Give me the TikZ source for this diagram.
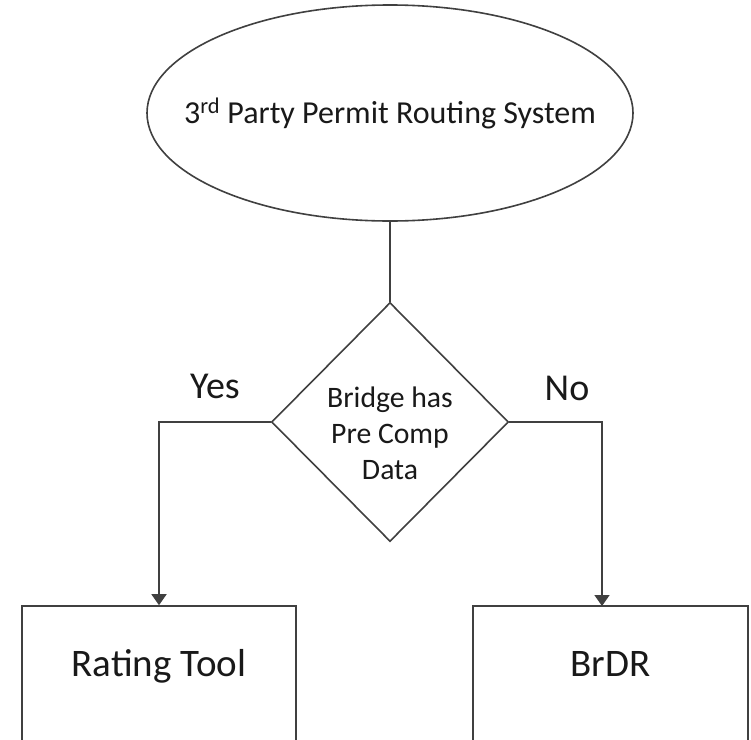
\documentclass[tikz,border=0pt]{standalone}
\usepackage{fontspec}
\setmainfont{Carlito}
\usetikzlibrary{shapes.geometric,arrows.meta}
\begin{document}
\begin{tikzpicture}[x=1pt,y=-1pt,
  conn/.style={draw=black!75, line width=1.6pt},
  arrowconn/.style={conn, -{Triangle[width=15pt,length=11pt]}},
  outline/.style={draw=black!75, line width=1.6pt},
  boxnode/.style={outline, rectangle, minimum width=274pt, minimum height=136pt, inner sep=0pt,
     font=\fontsize{39}{47}\selectfont, text height=0.7em, text depth=0.2em, text=black!90},
  lbl/.style={font=\fontsize{38}{46}\selectfont, text=black!90, anchor=base, inner sep=0pt}
]
\useasboundingbox (0,0) rectangle (751,739);
\clip (0,0) rectangle (751,739);
\fill[white] (0,0) rectangle (751,739);

\node[outline, ellipse, minimum width=486pt, minimum height=216pt, inner sep=0pt] (src) at (390,113) {};
\node[lbl, font=\fontsize{32}{39}\selectfont] (srctext) at (390,123) {3\textsuperscript{rd} Party Permit Routing System};

\node[outline, diamond, minimum width=237pt, minimum height=239pt, inner sep=0pt] (dec) at (390,422) {};
\node[font=\fontsize{29.7}{36}\selectfont, align=center, text=black!90, inner sep=0pt] (dectext) at (390,433) {Bridge has\\Pre Comp\\Data};

\node[boxnode] (rt) at (159,674) {Rating Tool};
\node[boxnode, minimum width=275pt] (br) at (610.5,674) {BrDR};

\coordinate (brin) at (602,606);

\draw[conn] (src.south) -- (dec.north);
\draw[arrowconn] (dec.west) -| (rt.north);
\draw[arrowconn] (dec.east) -| (brin);

\node[lbl] (yes) at (215,398) {Yes};
\node[lbl] (no) at (567,400) {No};
\end{tikzpicture}
\end{document}
